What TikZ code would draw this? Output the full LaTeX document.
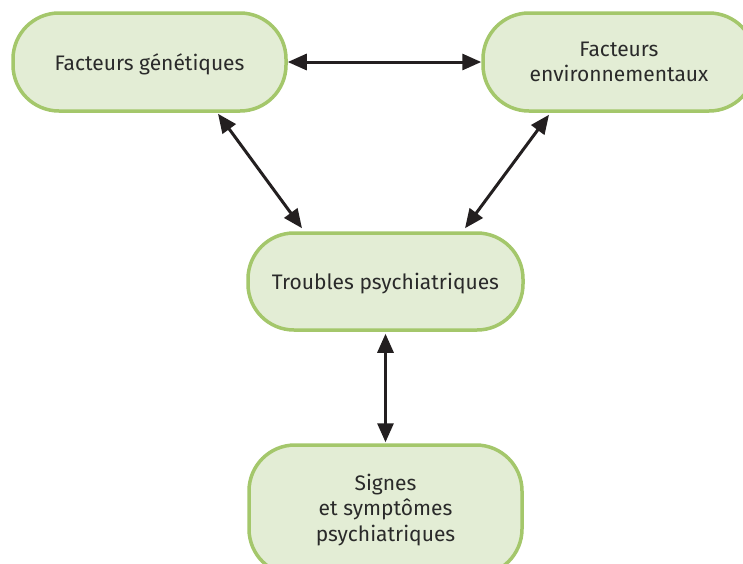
\documentclass[tikz,border=0pt]{standalone}
\usepackage{fontspec}
\setmainfont{Fira Sans}
\usetikzlibrary{arrows.meta}
\definecolor{boxfill}{HTML}{E3EDD5}
\definecolor{boxline}{HTML}{A4C76B}
\definecolor{txt}{HTML}{2A2A2A}
\definecolor{arr}{HTML}{231F20}
\tikzset{
  box/.style={draw=boxline, fill=boxfill, line width=3.5pt, rounded corners=46pt,
    text=txt, align=center, inner sep=0pt, font=\fontsize{21}{25.5}\selectfont,
    execute at begin node={\rule{0pt}{20.5pt}}},
  link/.style={draw=arr, line width=3pt, {Triangle[length=19pt,width=16pt]}-{Triangle[length=19pt,width=16pt]}}
}
\begin{document}
\begin{tikzpicture}[x=1pt,y=-1pt]
\useasboundingbox (0,0) rectangle (743,563);
\clip (0,0) rectangle (743,563);
\fill[white] (0,0) rectangle (743,563);
\node[box, minimum width=273pt, minimum height=98pt] (g) at (149.5,62) {Facteurs génétiques};
\node[box, minimum width=272pt, minimum height=98pt] (e) at (619,62) {Facteurs\\environnementaux};
\node[box, minimum width=275pt, minimum height=97pt] (t) at (385.5,281.5) {Troubles psychiatriques};
\node[box, minimum width=273pt, minimum height=130pt] (s) at (385.5,510) {Signes\\et symptômes\\psychiatriques};
\draw[link] (g.east) -- (e.west);
\draw[link] ([xshift=68.5pt,yshift=-1pt]g.south) -- ([xshift=-83.5pt,yshift=3pt]t.north);
\draw[link] ([xshift=-70pt,yshift=-2pt]e.south) -- ([xshift=79.5pt,yshift=3pt]t.north);
\draw[link] ([yshift=-2pt]t.south) -- ([yshift=1pt]s.north);
\end{tikzpicture}
\end{document}
